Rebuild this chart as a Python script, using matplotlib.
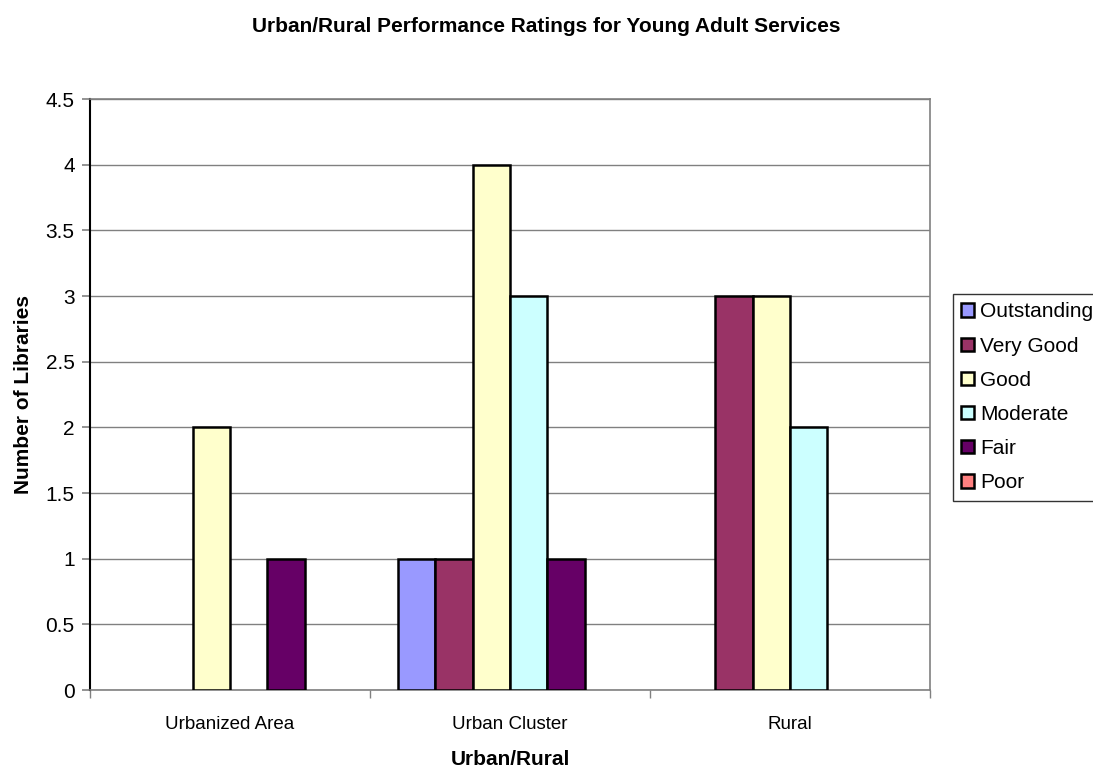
import matplotlib
matplotlib.use("Agg")
import matplotlib.pyplot as plt
import numpy as np
from matplotlib.patches import Patch

plt.rcParams['font.family'] = ['Liberation Sans', 'DejaVu Sans']

categories = ["Urbanized Area", "Urban Cluster", "Rural"]
series_names = ["Outstanding", "Very Good", "Good", "Moderate", "Fair", "Poor"]
outstanding = [0, 1, 0]
very_good = [0, 1, 3]
good = [2, 4, 3]
moderate = [0, 3, 2]
fair = [1, 1, 0]
poor = [0, 0, 0]
colors = ["#9999FF", "#993366", "#FFFFCC", "#CCFFFF", "#660066", "#FF8080"]
yticks = [0, 0.5, 1, 1.5, 2, 2.5, 3, 3.5, 4, 4.5]

values = [outstanding, very_good, good, moderate, fair, poor]

fig = plt.figure(figsize=(10.93, 7.67), dpi=100)
ax = fig.add_axes([90 / 1093, 1 - 690 / 767, 840 / 1093, 591 / 767])

n = len(series_names)
bar_w = 1.0 / (n + 1.5)
x = np.arange(len(categories))
for i, (name, vals, c) in enumerate(zip(series_names, values, colors)):
    offs = (i - (n - 1) / 2) * bar_w
    heights = np.array(vals, dtype=float)
    mask = heights > 0
    ax.bar(x[mask] + offs, heights[mask], width=bar_w, color=c,
           edgecolor="black", linewidth=1.8, zorder=3)

ax.set_xlim(-0.5, len(categories) - 0.5)
ax.set_ylim(0, 4.5)
ax.set_yticks(yticks)
ax.set_yticklabels([f"{v:g}" for v in yticks], fontsize=15)
ax.yaxis.grid(True, color="#808080", linewidth=1.0, zorder=0)
ax.set_axisbelow(True)

ax.set_xticks(x)
ax.set_xticklabels(categories, fontsize=13.5)
ax.tick_params(axis="x", length=0, pad=19)
ax.set_xticks(np.arange(len(categories) + 1) - 0.5, minor=True)
ax.tick_params(axis="x", which="minor", length=6, color="#808080", width=1)
ax.tick_params(axis="y", length=6, width=1.2, pad=5, color="#808080")

for side in ("top", "right", "bottom"):
    ax.spines[side].set_color("#808080")
    ax.spines[side].set_linewidth(1.2)
ax.spines["left"].set_color("black")
ax.spines["left"].set_linewidth(1.5)

ax.set_xlabel("Urban/Rural", fontsize=15, fontweight="bold", labelpad=12)
ax.set_ylabel("Number of Libraries", fontsize=15, fontweight="bold", labelpad=9)
fig.suptitle("Urban/Rural Performance Ratings for Young Adult Services",
             fontsize=15, fontweight="bold", y=1 - 27 / 767, va="center")

handles = [Patch(facecolor=c, edgecolor="black", linewidth=1.8, label=s)
           for s, c in zip(series_names, colors)]
leg = fig.legend(handles=handles, loc="upper left",
                 bbox_to_anchor=(953 / 1093, 1 - 294 / 767),
                 fontsize=15, frameon=True, fancybox=False,
                 edgecolor="black", handlelength=0.6, handleheight=0.6,
                 handletextpad=0.3, labelspacing=0.73, borderpad=0.4,
                 borderaxespad=0)
leg.get_frame().set_linewidth(1.0)

fig.savefig("out.png", dpi=100, facecolor="white")
